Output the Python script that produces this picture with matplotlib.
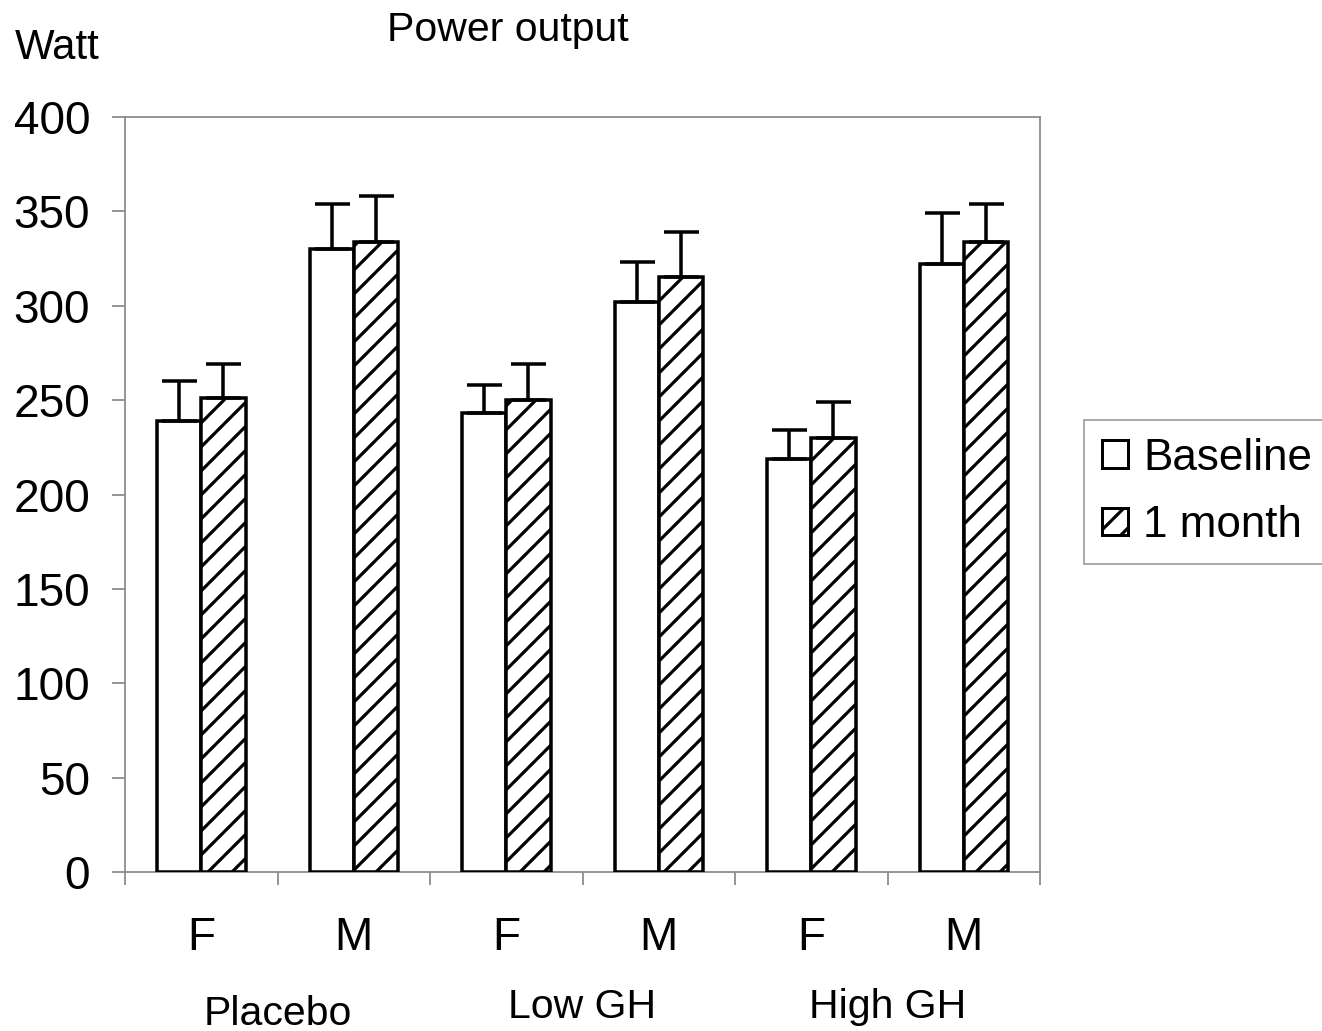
import numpy as np
import matplotlib
matplotlib.use("Agg")
import matplotlib.pyplot as plt
from matplotlib.patches import Patch

plt.rcParams["font.family"] = ["Liberation Sans", "DejaVu Sans"]
plt.rcParams["hatch.linewidth"] = 3.2

sexes = ["F", "M", "F", "M", "F", "M"]
groups = ["Placebo", "Low GH", "High GH"]
baseline = [239, 330, 243, 302, 219, 322]
baseline_sd = [21, 24, 15, 21, 15, 27]
month1 = [251, 334, 250, 315, 230, 334]
month1_sd = [18, 24, 19, 24, 19, 20]

GRAY = "#8c8c8c"

# 72 dpi so that one point is one pixel and the hatch spacing is 12 px
fig = plt.figure(figsize=(1322 / 72, 1031 / 72), dpi=72)
ax = fig.add_axes([0.0946, 0.1542, 0.6921, 0.7323])

x = np.arange(len(sexes))
w = 0.29
err_kw = dict(ecolor="black", elinewidth=3.5, capsize=17.5, capthick=3.5)

ax.bar(x - w / 2, baseline, w, color="white", edgecolor="black", linewidth=3.5,
       yerr=[np.zeros(len(x)), baseline_sd], error_kw=err_kw, zorder=3)
ax.bar(x + w / 2, month1, w, color="white", edgecolor="black", linewidth=3.5,
       hatch="/", yerr=[np.zeros(len(x)), month1_sd], error_kw=err_kw, zorder=3)

ax.set_xlim(-0.5, len(x) - 0.5)
ax.set_ylim(0, 400)
ax.set_yticks(np.arange(0, 401, 50))
ax.tick_params(axis="y", labelsize=46, length=13, width=1.8, color=GRAY, pad=22)

ax.set_xticks(x)
ax.set_xticklabels(sexes)
ax.set_xticks(np.arange(-0.5, len(x), 1), minor=True)
ax.tick_params(axis="x", which="major", length=0, labelsize=46, pad=44)
ax.tick_params(axis="x", which="minor", length=13, width=1.8, color=GRAY)

for s in ax.spines.values():
    s.set_color(GRAY)
    s.set_linewidth(1.8)

# treatment group names under each F/M pair (baselines in axes coords)
for i, (g, yb) in enumerate(zip(groups, [-0.202, -0.193, -0.193])):
    ax.text(2 * i + 0.5, yb, g, transform=ax.get_xaxis_transform(),
            ha="center", va="baseline", fontsize=41)

fig.text(0.011, 0.953, "Watt", fontsize=42, ha="left", va="center")
fig.text(0.384, 0.971, "Power output", fontsize=41, ha="center", va="center")

handles = [Patch(facecolor="white", edgecolor="black", linewidth=3),
           Patch(facecolor="white", edgecolor="black", linewidth=3, hatch="/")]
leg = fig.legend(handles, ["Baseline", "1 month"], loc="center left",
                 bbox_to_anchor=(0.820, 0.523), fontsize=44, frameon=True,
                 fancybox=False, handlelength=0.6, handleheight=0.6,
                 handletextpad=0.35, borderpad=0.4, labelspacing=0.6,
                 borderaxespad=0)
leg.get_frame().set_edgecolor(GRAY)
leg.get_frame().set_linewidth(1.8)

fig.savefig("out.png", dpi=72)
